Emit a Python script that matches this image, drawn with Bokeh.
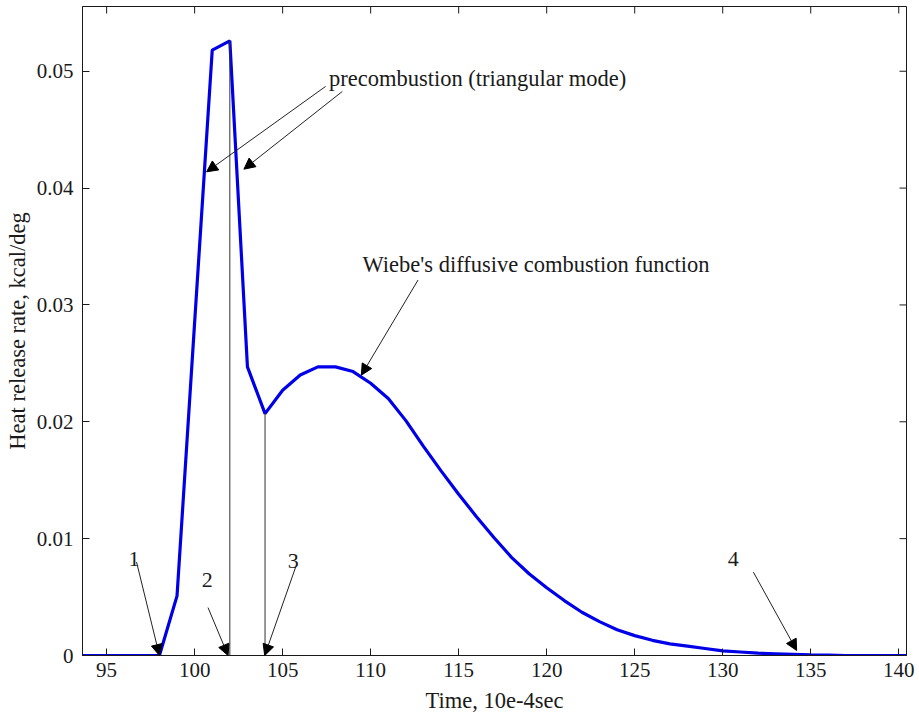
from bokeh.plotting import figure
from bokeh.models import (Range1d, FixedTicker, Arrow, NormalHead,
                          ColumnDataSource, CustomJSTickFormatter)
from bokeh.core.properties import value
from bokeh.embed import file_html
from bokeh.resources import INLINE

# ---- data ----
time = [93, 94, 95, 96, 97, 98, 99, 100, 101, 102, 103, 104, 105, 106, 107, 108,
        109, 110, 111, 112, 113, 114, 115, 116, 117, 118, 119, 120, 121, 122, 123,
        124, 125, 126, 127, 128, 129, 130, 131, 132, 133, 134, 135, 136, 137, 138,
        139, 140, 141]
heat = [0.0, 0.0, 0.0, 0.0, 0.0, 0.0, 0.0051, 0.0285, 0.0518, 0.0526, 0.0247,
        0.0207, 0.0227, 0.0240, 0.0247, 0.0247, 0.0243, 0.0233, 0.0220, 0.0201,
        0.0179, 0.0158, 0.0138, 0.0119, 0.0101, 0.0084, 0.0070, 0.0058, 0.0047,
        0.0037, 0.0029, 0.0022, 0.0017, 0.0013, 0.0010, 0.0008, 0.0006, 0.0004,
        0.0003, 0.0002, 0.00015, 0.0001, 0.00005, 0.00003, 0.0, 0.0, 0.0, 0.0, 0.0]

# vertical marker lines (end of precombustion phases)
marker_times = [102, 104]

x_ticks = [95, 100, 105, 110, 115, 120, 125, 130, 135, 140]
y_ticks = [0, 0.01, 0.02, 0.03, 0.04, 0.05]

x_label = "Time, 10e-4sec"
y_label = "Heat release rate, kcal/deg"

# annotation texts and anchor points
note_texts = ["precombustion (triangular mode)", "Wiebe's diffusive combustion function"]
note_x = [107.63, 109.53]
note_y = [0.04942, 0.03342]

num_texts = ["1", "2", "3", "4"]
num_x = [96.55, 100.72, 105.6, 130.6]
num_y = [0.00828, 0.00643, 0.00806, 0.00828]

arrow_x0 = [107.44, 108.39, 112.69, 96.70, 100.76, 105.74, 131.74]
arrow_y0 = [0.04870, 0.04827, 0.03213, 0.0080, 0.0041, 0.00757, 0.00714]
arrow_x1 = [100.68, 102.80, 109.47, 98.0, 101.9, 103.98, 134.2]
arrow_y1 = [0.04139, 0.04162, 0.02399, 0.0, 0.0, 0.0, 0.00043]

X0, X1 = 93.63, 140.44
Y0, Y1 = 0.0, 0.05554

FONT = "Liberation Serif"
INK = "#1a1a1a"

p = figure(width=916, height=717, output_backend="svg", toolbar_location=None,
           x_range=Range1d(X0, X1), y_range=Range1d(Y0, Y1),
           min_border_left=82, min_border_right=10, min_border_top=6,
           min_border_bottom=62, x_axis_label=x_label, y_axis_label=y_label)
p.background_fill_color = "white"
p.border_fill_color = "white"
p.outline_line_color = INK
p.outline_line_width = 1
p.xgrid.visible = False
p.ygrid.visible = False

def style_axis(ax, ticks):
    ax.ticker = FixedTicker(ticks=ticks)
    ax.major_tick_in = 7
    ax.major_tick_out = 0
    ax.minor_tick_in = 0
    ax.minor_tick_out = 0
    ax.axis_line_color = INK
    ax.major_tick_line_color = INK
    ax.major_label_text_font = FONT
    ax.major_label_text_color = INK
    ax.major_label_text_font_size = "21px"
    ax.axis_label_text_font = FONT
    ax.axis_label_text_font_style = "normal"
    ax.axis_label_text_color = INK
    ax.axis_label_text_font_size = "22.5px"

xa = p.xaxis[0]
ya = p.yaxis[0]
style_axis(xa, x_ticks)
style_axis(ya, y_ticks)
xa.major_label_standoff = 7
xa.axis_label_standoff = 8
ya.major_label_standoff = 9
ya.axis_label_standoff = 4
ya.formatter = CustomJSTickFormatter(code="return tick == 0 ? '0' : tick.toFixed(2);")

# mirrored inward ticks on the top and right edges of the box
p.ray(x=x_ticks, y=[Y1] * len(x_ticks), length=7, length_units="screen",
      angle=-90, angle_units="deg", line_color=INK, line_width=1)
p.ray(x=[X1] * len(y_ticks), y=y_ticks, length=7, length_units="screen",
      angle=180, angle_units="deg", line_color=INK, line_width=1)

# main heat-release curve
src = ColumnDataSource(dict(t=time, q=heat))
p.line("t", "q", source=src, line_color="#0000e8", line_width=3.2)

# vertical marker lines from 0 up to the curve
marker_top = [heat[time.index(t)] for t in marker_times]
p.segment(x0=marker_times, y0=[0] * len(marker_times), x1=marker_times, y1=marker_top,
          line_color="#333333", line_width=1)

# arrows
asrc = ColumnDataSource(dict(xs=arrow_x0, ys=arrow_y0, xe=arrow_x1, ye=arrow_y1))
p.add_layout(Arrow(source=asrc, x_start="xs", y_start="ys", x_end="xe", y_end="ye",
                   line_color="#222222", line_width=1,
                   end=NormalHead(size=11, fill_color="black", line_color="black",
                                  line_width=1)))

# annotation texts
p.text(x=note_x, y=note_y, text=note_texts, text_font=value(FONT),
       text_font_size="22.5px", text_color=INK, text_align="left",
       text_baseline="alphabetic")
p.text(x=num_x, y=num_y, text=num_texts, text_font=value(FONT),
       text_font_size="22px", text_color=INK, text_align="center",
       text_baseline="alphabetic")

open("out.html", "w").write(file_html(p, INLINE))
